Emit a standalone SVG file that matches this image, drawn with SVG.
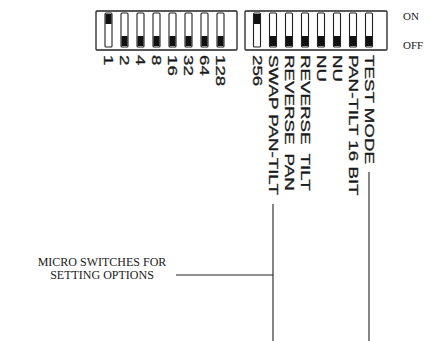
<svg xmlns="http://www.w3.org/2000/svg" width="430" height="341" viewBox="0 0 430 341">
<defs>
<style>
.blk{fill:#fff;stroke:#222;stroke-width:1.3}
.slot{fill:#fff;stroke:#222;stroke-width:1.1}
.lev{fill:#111}
.lbl{font-family:"Liberation Sans",Arial,sans-serif;font-size:12.5px;fill:#1a1a1a;stroke:#1a1a1a;stroke-width:0.3}
.ser{font-family:"Liberation Serif","Times New Roman",serif;fill:#1a1a1a}
.ln{stroke:#222;stroke-width:1.1;fill:none}
</style>
</defs>
<rect width="430" height="341" fill="#fff"/>
<g id="switch-block-1">
<rect class="blk" x="96" y="11" width="141" height="39" rx="1"/>
<rect class="slot" x="105" y="13" width="7" height="34" rx="1"/>
<rect class="lev" x="105.5" y="14" width="6" height="10"/>
<rect class="slot" x="121" y="13" width="7" height="34" rx="1"/>
<rect class="lev" x="121.5" y="36" width="6" height="10"/>
<rect class="slot" x="137" y="13" width="7" height="34" rx="1"/>
<rect class="lev" x="137.5" y="36" width="6" height="10"/>
<rect class="slot" x="153" y="13" width="7" height="34" rx="1"/>
<rect class="lev" x="153.5" y="36" width="6" height="10"/>
<rect class="slot" x="169" y="13" width="7" height="34" rx="1"/>
<rect class="lev" x="169.5" y="36" width="6" height="10"/>
<rect class="slot" x="185" y="13" width="7" height="34" rx="1"/>
<rect class="lev" x="185.5" y="36" width="6" height="10"/>
<rect class="slot" x="201" y="13" width="7" height="34" rx="1"/>
<rect class="lev" x="201.5" y="36" width="6" height="10"/>
<rect class="slot" x="217" y="13" width="7" height="34" rx="1"/>
<rect class="lev" x="217.5" y="36" width="6" height="10"/>
</g>
<g id="switch-block-2">
<rect class="blk" x="245" y="11" width="142" height="39" rx="1"/>
<rect class="slot" x="253.5" y="13" width="7" height="34" rx="1"/>
<rect class="lev" x="254" y="14" width="6" height="10"/>
<rect class="slot" x="269.5" y="13" width="7" height="34" rx="1"/>
<rect class="lev" x="270" y="36" width="6" height="10"/>
<rect class="slot" x="285.5" y="13" width="7" height="34" rx="1"/>
<rect class="lev" x="286" y="36" width="6" height="10"/>
<rect class="slot" x="301.5" y="13" width="7" height="34" rx="1"/>
<rect class="lev" x="302" y="36" width="6" height="10"/>
<rect class="slot" x="317.5" y="13" width="7" height="34" rx="1"/>
<rect class="lev" x="318" y="36" width="6" height="10"/>
<rect class="slot" x="333.5" y="13" width="7" height="34" rx="1"/>
<rect class="lev" x="334" y="36" width="6" height="10"/>
<rect class="slot" x="349.5" y="13" width="7" height="34" rx="1"/>
<rect class="lev" x="350" y="36" width="6" height="10"/>
<rect class="slot" x="365.5" y="13" width="7" height="34" rx="1"/>
<rect class="lev" x="366" y="36" width="6" height="10"/>
</g>
<g id="on-off">
<text class="ser" x="403" y="20" font-size="11">ON</text>
<text class="ser" x="403" y="49" font-size="11">OFF</text>
</g>
<g id="labels-block-1">
<text class="lbl" transform="translate(104,55) rotate(90) scale(1.5,1)">1</text>
<text class="lbl" transform="translate(120,55) rotate(90) scale(1.5,1)">2</text>
<text class="lbl" transform="translate(136,55) rotate(90) scale(1.5,1)">4</text>
<text class="lbl" transform="translate(152,55) rotate(90) scale(1.5,1)">8</text>
<text class="lbl" transform="translate(168,55) rotate(90) scale(1.5,1)">16</text>
<text class="lbl" transform="translate(184,55) rotate(90) scale(1.5,1)">32</text>
<text class="lbl" transform="translate(200,55) rotate(90) scale(1.5,1)">64</text>
<text class="lbl" transform="translate(216,55) rotate(90) scale(1.5,1)">128</text>
</g>
<g id="labels-block-2">
<text class="lbl" transform="translate(252.5,55) rotate(90) scale(1.5,1)">256</text>
<text id="swap" class="lbl" transform="translate(268.5,55) rotate(90) scale(1.5,1)">SWAP PAN-TILT</text>
<text class="lbl" transform="translate(284.5,55) rotate(90) scale(1.5,1)">REVERSE<tspan dx="6">PAN</tspan></text>
<text class="lbl" transform="translate(300.5,55) rotate(90) scale(1.5,1)">REVERSE<tspan dx="6">TILT</tspan></text>
<text class="lbl" transform="translate(316.5,55) rotate(90) scale(1.5,1)">NU</text>
<text class="lbl" transform="translate(332.5,55) rotate(90) scale(1.5,1)">NU</text>
<text class="lbl" transform="translate(348.5,55) rotate(90) scale(1.5,1)">PAN-TILT 16 BIT</text>
<text id="test" class="lbl" transform="translate(364.5,55) rotate(90) scale(1.5,1)">TEST MODE</text>
</g>
<g id="callout">
<text class="ser" x="102" y="266" font-size="12" text-anchor="middle">MICRO SWITCHES FOR</text>
<text class="ser" x="102" y="279" font-size="12" text-anchor="middle">SETTING OPTIONS</text>
</g>
<g id="connectors">
<line class="ln" x1="273" y1="204" x2="273" y2="341"/>
<line class="ln" x1="369" y1="172" x2="369" y2="341"/>
<line class="ln" x1="176" y1="275" x2="273" y2="275"/>
</g>
</svg>
